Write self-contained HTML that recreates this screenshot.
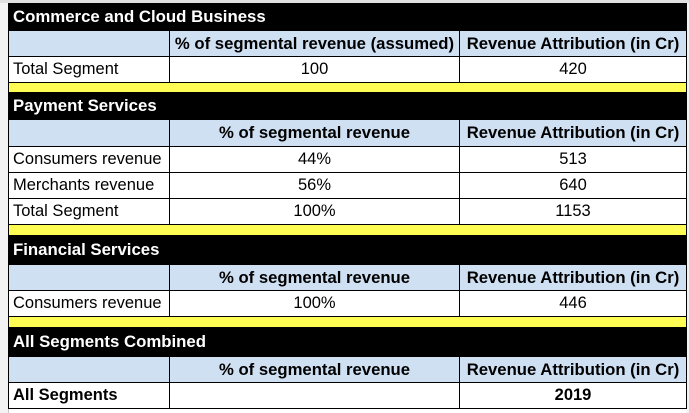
<!DOCTYPE html>
<html><head><style>
body{margin:0;width:689px;height:413px;background:#fff;position:relative;overflow:hidden;font-family:"Liberation Sans",Arial,sans-serif;}
.r{position:absolute;box-sizing:border-box;}
.c{position:absolute;box-sizing:border-box;border:1px solid #000;display:flex;align-items:center;font-size:16.5px;color:#000;white-space:nowrap;overflow:hidden}
.blk{background:#000;color:#fff;font-weight:bold;font-size:16.8px;padding-left:4px}
.blu{background:#cfe0f2;font-weight:bold;justify-content:center;font-size:16.7px}
.w{background:#fff}
.ctr{justify-content:center}
.l{padding-left:4px}
.y{background:#fffd54;border:1px solid #000}
.g{background:#f3f3f3}
</style></head><body>
<div class="r g" style="left:0;top:0;width:9px;height:413px;border-right:1px solid #c8c8c8"></div>
<div class="r g" style="left:686px;top:0;width:3px;height:413px"></div>
<div class="r" style="left:0;top:0;width:689px;height:3px;background:#e0e0e0"></div>

<div class="c blk" style="left:8px;top:3px;width:679px;height:28px">Commerce and Cloud Business</div>
<div class="c blu" style="left:8px;top:30px;width:162px;height:27px"></div>
<div class="c blu" style="left:169px;top:30px;width:291px;height:27px">% of segmental revenue (assumed)</div>
<div class="c blu" style="left:459px;top:30px;width:228px;height:27px">Revenue Attribution (in Cr)</div>
<div class="c w l" style="left:8px;top:56px;width:162px;height:27px">Total Segment</div>
<div class="c w ctr" style="left:169px;top:56px;width:291px;height:27px">100</div>
<div class="c w ctr" style="left:459px;top:56px;width:228px;height:27px">420</div>
<div class="r y" style="left:8px;top:82px;width:679px;height:11px"></div>

<div class="c blk" style="left:8px;top:92px;width:679px;height:28px">Payment Services</div>
<div class="c blu" style="left:8px;top:119px;width:162px;height:28px"></div>
<div class="c blu" style="left:169px;top:119px;width:291px;height:28px">% of segmental revenue</div>
<div class="c blu" style="left:459px;top:119px;width:228px;height:28px">Revenue Attribution (in Cr)</div>
<div class="c w l" style="left:8px;top:146px;width:162px;height:27px">Consumers revenue</div>
<div class="c w ctr" style="left:169px;top:146px;width:291px;height:27px">44%</div>
<div class="c w ctr" style="left:459px;top:146px;width:228px;height:27px">513</div>
<div class="c w l" style="left:8px;top:172px;width:162px;height:27px">Merchants revenue</div>
<div class="c w ctr" style="left:169px;top:172px;width:291px;height:27px">56%</div>
<div class="c w ctr" style="left:459px;top:172px;width:228px;height:27px">640</div>
<div class="c w l" style="left:8px;top:198px;width:162px;height:27px">Total Segment</div>
<div class="c w ctr" style="left:169px;top:198px;width:291px;height:27px">100%</div>
<div class="c w ctr" style="left:459px;top:198px;width:228px;height:27px">1153</div>
<div class="r y" style="left:8px;top:224px;width:679px;height:12px"></div>

<div class="c blk" style="left:8px;top:235px;width:679px;height:30px">Financial Services</div>
<div class="c blu" style="left:8px;top:264px;width:162px;height:27px"></div>
<div class="c blu" style="left:169px;top:264px;width:291px;height:27px">% of segmental revenue</div>
<div class="c blu" style="left:459px;top:264px;width:228px;height:27px">Revenue Attribution (in Cr)</div>
<div class="c w l" style="left:8px;top:290px;width:162px;height:27px">Consumers revenue</div>
<div class="c w ctr" style="left:169px;top:290px;width:291px;height:27px">100%</div>
<div class="c w ctr" style="left:459px;top:290px;width:228px;height:27px">446</div>
<div class="r y" style="left:8px;top:316px;width:679px;height:12px"></div>

<div class="c blk" style="left:8px;top:327px;width:679px;height:30px">All Segments Combined</div>
<div class="c blu" style="left:8px;top:356px;width:162px;height:27px"></div>
<div class="c blu" style="left:169px;top:356px;width:291px;height:27px">% of segmental revenue</div>
<div class="c blu" style="left:459px;top:356px;width:228px;height:27px">Revenue Attribution (in Cr)</div>
<div class="c w l" style="left:8px;top:382px;width:162px;height:27px;font-weight:bold">All Segments</div>
<div class="c w ctr" style="left:169px;top:382px;width:291px;height:27px"></div>
<div class="c w ctr" style="left:459px;top:382px;width:228px;height:27px;font-weight:bold">2019</div>
</body></html>
